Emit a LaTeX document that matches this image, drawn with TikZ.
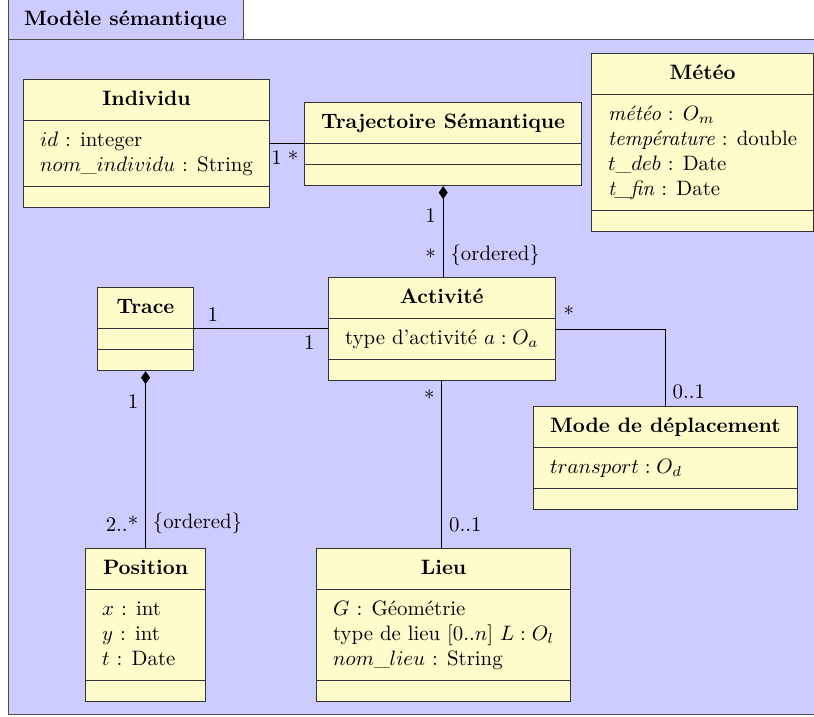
\documentclass[tikz,border=0pt]{standalone}
\usepackage{amsmath}
\usetikzlibrary{shapes.multipart,arrows.meta,positioning}

\begin{document}
\begin{tikzpicture}[x=0.48pt,y=-0.48pt]
\tikzstyle{umlclass}=[rectangle split, rectangle split parts=3, draw=black!80, line width=0.5pt,
  fill=yellow!20, anchor=north west, inner xsep=8pt, inner ysep=3.6pt,
  rectangle split part align={center,left,left}]
\tikzstyle{assoc}=[black, line width=0.4pt]
\tikzstyle{compo}=[assoc, {Diamond[length=6.2pt,width=4.3pt]}-]
\useasboundingbox (0,0) rectangle (814,717);
% package
\draw [draw=black!70, fill=blue!20] (8,39) rectangle (830,714);
\draw [draw=black!70, fill=blue!20] (8,-2) rectangle (243,39);
\node (pkg) at (125.5,20) {\textbf{Modèle sémantique}};
% classes
\node [umlclass, minimum width=117.1pt] (indiv) at (23,79)
  {\strut\textbf{Individu}
   \nodepart{two}\begin{tabular}{@{}l@{}}$id$ : integer\\ $nom\_individu$ : String\end{tabular}
   \nodepart{three}\rule{0pt}{2.4pt}};
\node [umlclass, minimum width=132pt] (traj) at (304,102)
  {\strut\textbf{Trajectoire Sémantique}
   \nodepart{two}\rule{0pt}{2.4pt}
   \nodepart{three}\rule{0pt}{2.4pt}};
\node [umlclass, minimum width=105.6pt] (meteo) at (591,53)
  {\strut\textbf{Météo}
   \nodepart{two}\begin{tabular}{@{}l@{}}\textit{météo} : $O_m$\\ \textit{température} : double\\
     $t\_deb$ : Date\\ \textit{t\_fin} : Date\end{tabular}
   \nodepart{three}\rule{0pt}{2.4pt}};
\node [umlclass, minimum width=46.1pt] (trace) at (97,287)
  {\strut\textbf{Trace}
   \nodepart{two}\rule{0pt}{2.4pt}
   \nodepart{three}\rule{0pt}{2.4pt}};
\node [umlclass, minimum width=108pt] (activite) at (328,277)
  {\strut\textbf{Activité}
   \nodepart{two}\strut type d'activité $a : O_a$
   \nodepart{three}\rule{0pt}{2.4pt}};
\node [umlclass, minimum width=125.3pt] (mode) at (533,406)
  {\strut\textbf{Mode de déplacement}
   \nodepart{two}\strut$transport : O_d$
   \nodepart{three}\rule{0pt}{2.4pt}};
\node [umlclass, minimum width=57.6pt] (position) at (85,548)
  {\strut\textbf{Position}
   \nodepart{two}\begin{tabular}{@{}l@{}}$x$ : int\\ $y$ : int\\ $t$ : Date\end{tabular}
   \nodepart{three}\rule{0pt}{2.4pt}};
\node [umlclass, minimum width=120.5pt] (lieu) at (316,548)
  {\strut\textbf{Lieu}
   \nodepart{two}\begin{tabular}{@{}l@{}}$G$ : Géométrie\\ type de lieu [0..$n$] $L : O_l$\\ $nom\_lieu$ : String\end{tabular}
   \nodepart{three}\rule{0pt}{2.4pt}};
% associations
\draw [assoc] (indiv.east |- traj.text split west) -- (traj.text split west)
  node [pos=0.19, below] {1} node [pos=0.68, below] {*};
\draw [compo] (traj.south) -- (traj.south |- activite.north)
  node [pos=0.32, left] {1} node [pos=0.78, left] {*} node [pos=0.76, right] {\{ordered\}};
\draw [assoc] (trace.text split east) -- (trace.text split east -| activite.west)
  node [pos=0.14, above] {1} node [pos=0.86, below] {1};
\draw [assoc] (activite.east) -| (mode.north)
  node [pos=0.06, above] {*} node [pos=0.905, right] {0..1};
\draw [assoc] (activite.south) -- (activite.south |- lieu.north)
  node [pos=0.1, left] {*} node [pos=0.86, right] {0..1};
\draw [compo] (trace.south) -- (trace.south |- position.north)
  node [pos=0.17, left] {1} node [pos=0.86, left] {2..*} node [pos=0.86, right] {\{ordered\}};
\end{tikzpicture}
\end{document}
